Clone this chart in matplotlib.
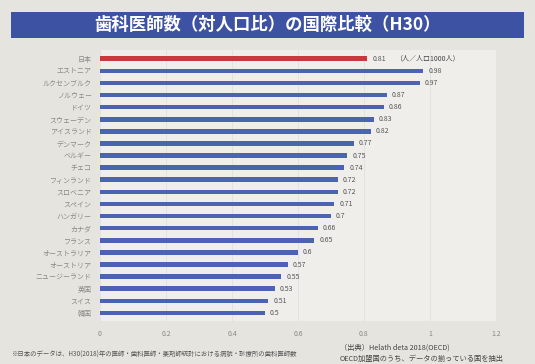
import numpy as np
import matplotlib.pyplot as plt
from matplotlib.patches import Rectangle

plt.rcParams['font.family'] = ['Noto Sans CJK JP', 'DejaVu Sans']

# データ（人口1000人当たり歯科医師数）
countries = ['日本', 'エストニア', 'ルクセンブルク', 'ノルウェー', 'ドイツ', 'スウェーデン',
             'アイスランド', 'デンマーク', 'ベルギー', 'チェコ', 'フィンランド', 'スロベニア',
             'スペイン', 'ハンガリー', 'カナダ', 'フランス', 'オーストラリア', 'オーストリア',
             'ニュージーランド', '英国', 'スイス', '韓国']
values = [0.81, 0.98, 0.97, 0.87, 0.86, 0.83, 0.82, 0.77, 0.75, 0.74, 0.72, 0.72,
          0.71, 0.7, 0.66, 0.65, 0.6, 0.57, 0.55, 0.53, 0.51, 0.5]
xticks = [0, 0.2, 0.4, 0.6, 0.8, 1, 1.2]
xticklabels = ['0', '0.2', '0.4', '0.6', '0.8', '1', '1.2']

fig = plt.figure(figsize=(5.35, 3.64), dpi=100)
fig.patch.set_facecolor('#e6e4de')

# タイトル帯
fig.patches.append(Rectangle((0.02, 0.895), 0.96, 0.072, transform=fig.transFigure,
                             facecolor='#3e52a3', edgecolor='none', zorder=0))
fig.text(0.5, 0.931, '歯科医師数（対人口比）の国際比較（H30）', color='white',
         fontsize=12.5, fontweight='bold', ha='center', va='center')

ax = fig.add_axes([0.187, 0.117, 0.740, 0.745])
ax.set_facecolor('#efeeea')
y = np.arange(len(countries))
colors = ['#c8383c'] + ['#4b63b0'] * (len(countries) - 1)
ax.barh(y, values, height=0.38, color=colors, zorder=3)
for yi, v in zip(y, values):
    ax.text(v + 0.015, yi, f'{v:g}', va='center', ha='left', fontsize=5, color='#555555')
ax.text(0.895, 0, '（人／人口1000人）', va='center', ha='left', fontsize=5, color='#444444')

ax.set_xlim(0, 1.2)
ax.set_ylim(len(countries) - 0.3, -0.7)
ax.set_yticks(y)
ax.set_yticklabels(countries, fontsize=5, color='#888888')
ax.set_xticks(xticks)
ax.set_xticklabels(xticklabels, fontsize=5, color='#888888')
ax.tick_params(length=0, pad=6)
ax.grid(axis='x', color='#dddddd', linewidth=0.5, zorder=0)
for s in ax.spines.values():
    s.set_visible(False)

fig.text(0.02, 0.025, '※日本のデータは、H30(2018)年の医師・歯科医師・薬剤師統計における病院・診療所の歯科医師数',
         fontsize=4.6, color='#555555', va='center')
fig.text(0.635, 0.045, '（出典）Helath deta 2018(OECD)', fontsize=5.2, color='#444444', va='center')
fig.text(0.635, 0.015, 'OECD加盟国のうち、データの揃っている国を抽出', fontsize=5.2, color='#444444', va='center')

fig.savefig('out.png', dpi=100, facecolor=fig.get_facecolor())
